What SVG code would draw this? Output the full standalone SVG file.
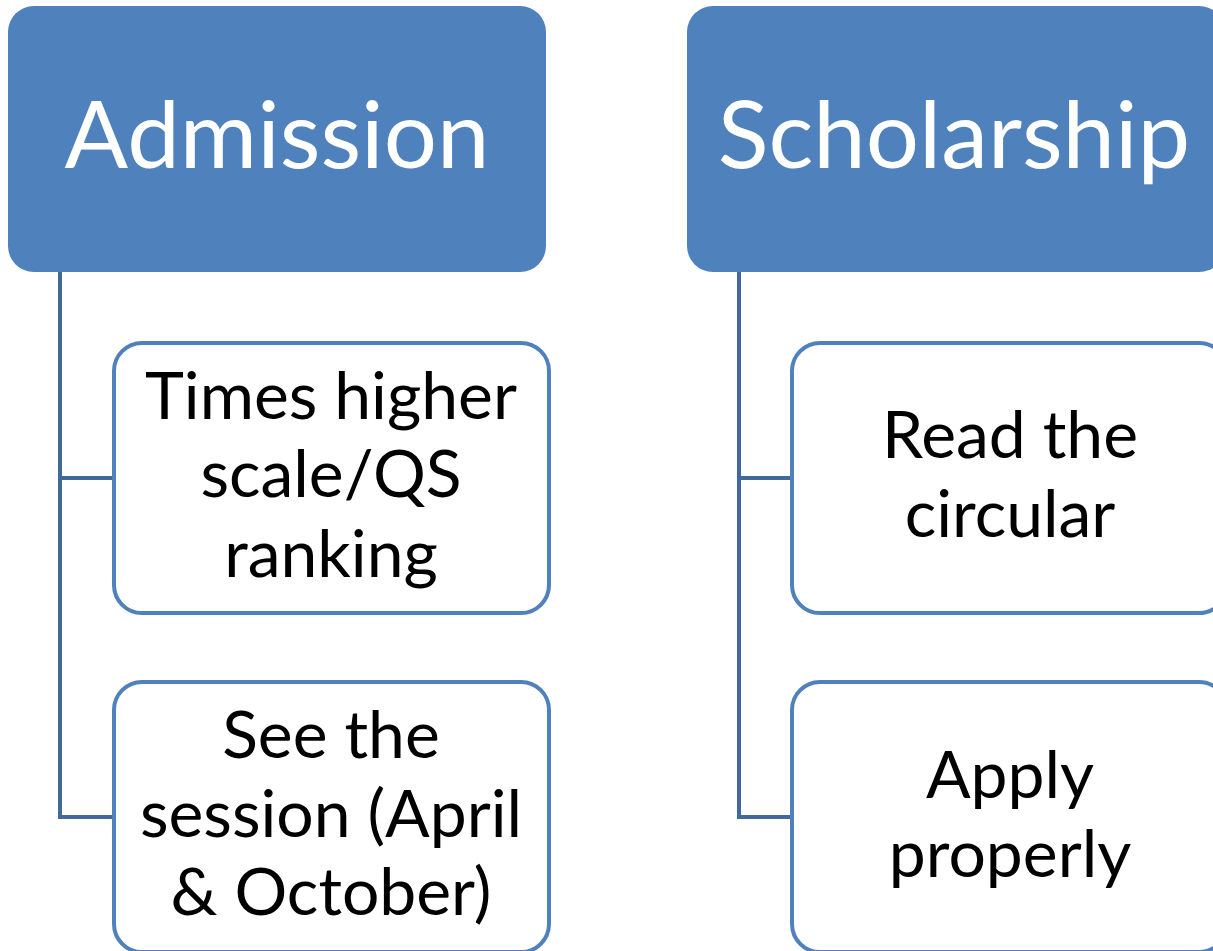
<svg xmlns="http://www.w3.org/2000/svg" width="1213" height="951" viewBox="0 0 1213 951">
<style>
.hdr{fill:#4F81BD;stroke:none}
.child{fill:#FFFFFF;stroke:#4F81BD;stroke-width:4}
.conn{fill:none;stroke:#41699B;stroke-width:4}
.ht{font-family:Lato,"Open Sans","Liberation Sans",sans-serif;font-size:94px;fill:#FFFFFF;text-anchor:middle}
.ct{font-family:Lato,"Open Sans","Liberation Sans",sans-serif;font-size:66px;fill:#000000;text-anchor:middle}
</style>
<rect width="1213" height="951" fill="#FFFFFF"/>
<g id="connectors">
<path class="conn" d="M60 272 V817 H114 M60 478 H114"/>
<path class="conn" d="M739 272 V817 H792 M739 478 H792"/>
</g>
<g id="admission">
<rect class="hdr" x="8" y="6" width="538" height="266" rx="26"/>
<text class="ht" x="277" y="168">Admission</text>
</g>
<g id="scholarship">
<rect class="hdr" x="687" y="6" width="538" height="266" rx="26"/>
<text class="ht" x="954" y="168">Scholarship</text>
</g>
<g id="times">
<rect class="child" x="114" y="343" width="435" height="270" rx="28"/>
<text class="ct" x="331" y="419">Times higher</text>
<text class="ct" x="331" y="497">scale/QS</text>
<text class="ct" x="331" y="577">ranking</text>
</g>
<g id="session">
<rect class="child" x="114" y="682" width="435" height="270" rx="28"/>
<text class="ct" x="331" y="758">See the</text>
<text class="ct" x="331" y="837">session (April</text>
<text class="ct" x="331" y="915">&amp; October)</text>
</g>
<g id="circular">
<rect class="child" x="792" y="343" width="435" height="270" rx="28"/>
<text class="ct" x="1010" y="458">Read the</text>
<text class="ct" x="1010" y="537">circular</text>
</g>
<g id="apply">
<rect class="child" x="792" y="682" width="435" height="270" rx="28"/>
<text class="ct" x="1010" y="798">Apply</text>
<text class="ct" x="1010" y="877">properly</text>
</g>
</svg>
